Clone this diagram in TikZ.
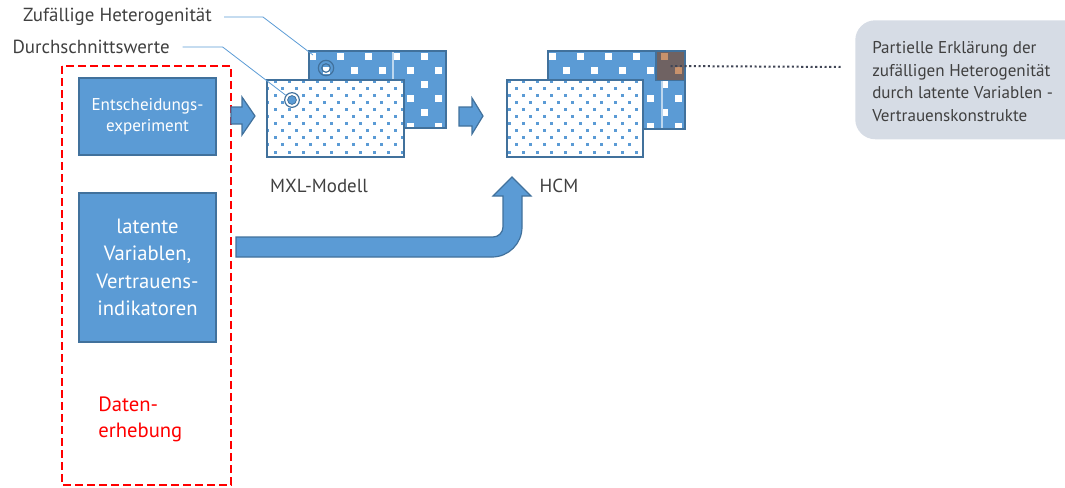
\documentclass[tikz,border=0pt]{standalone}
\usepackage{fontspec}
\setmainfont{PT Sans}
\usepackage{tikz}
\usetikzlibrary{positioning,calc}

\definecolor{officeblue}{HTML}{5B9BD5}
\definecolor{officeline}{HTML}{41719C}
\definecolor{softline}{HTML}{BDD7EE}
\definecolor{labelgray}{HTML}{404040}
\definecolor{calloutgray}{HTML}{D6DCE5}
\definecolor{markbrown}{HTML}{6F6262}
\definecolor{markorange}{HTML}{C8926C}
\definecolor{dotgray}{HTML}{404555}

\tikzset{
  bluebox/.style={draw=officeline, fill=officeblue, line width=1.1pt, text=white, align=center, inner sep=0pt},
  lbltext/.style={text=labelgray, inner sep=0pt, font=\fontsize{14.2}{17}\selectfont},
  blockarrow/.style={draw=officeline, fill=officeblue, line width=0.9pt, line join=miter},
  leader/.style={officeblue, line width=0.6pt},
  modelframe/.style={draw=officeline, line width=1.1pt}
}

\begin{document}
\begin{tikzpicture}[x=0.75pt, y=-0.75pt]
\clip (0,0) rectangle (1065,487);

%%% The dashed frame holds the data collection
\draw[red, line width=1.4pt, dash pattern=on 6pt off 3pt] (62,66) rectangle (231,485);
\node[bluebox, minimum width=102.75pt, minimum height=57.75pt, font=\fontsize{12.8}{15.7}\selectfont] (exp) at (147.5,116.5)
  {Entscheidungs-\\experiment};
\node[bluebox, minimum width=102.75pt, minimum height=111.75pt, font=\fontsize{15.5}{20.6}\selectfont] (lat) at (147.5,267.5)
  {latente\\Variablen,\\Vertrauens-\\indikatoren};
\node[text=red, align=left, anchor=west, inner sep=0pt, font=\fontsize{15.5}{19.5}\selectfont] (daten) at (98,419)
  {Daten-\\erhebung};

%%% The MXL model: random part behind, means in front
\fill[officeblue] (309,51) rectangle (446,128);
\begin{scope}
\clip (309,51) rectangle (446,128);
\foreach \j in {0,...,3}
  \foreach \i in {0,...,5} {
    \fill[white] (312+28*\i-3.5, 56+28*\j-3.5) rectangle ++(7,7);
    \fill[white] (326+28*\i-3.5, 70+28*\j-3.5) rectangle ++(7,7);
  }
\end{scope}
\draw[softline, line width=0.8pt] (393,51) -- (393,128);
\draw[modelframe] (309,51) rectangle (446,128);
\node[circle, draw=officeline, line width=0.9pt, minimum size=11.5pt, inner sep=0pt] (rcirc) at (326,68) {};
\draw[officeline, line width=0.9pt] (rcirc.center) circle[radius=3.2pt];
%
\fill[white] (267,80) rectangle (404,157);
\begin{scope}
\clip (267,80) rectangle (404,157);
\foreach \j [evaluate=\j as \off using {7.1*mod(\j,2)}] in {0,...,10}
  \foreach \i in {0,...,9}
    \fill[officeblue] (275+14.2*\i-\off-1.5, 81+7.1*\j-1.5) rectangle ++(3,3);
\end{scope}
\draw[modelframe] (267,80) rectangle (404,157);
\node[circle, draw=officeline, fill=white, line width=0.9pt, minimum size=11pt, inner sep=0pt] (mcirc) at (292,100) {};
\filldraw[fill=officeblue, draw=officeline, line width=0.6pt] (mcirc.center) circle[radius=3.3pt];
\node[lbltext] (mxl) at (319,186) {MXL-Modell};

%%% The HCM: same layers, part of the random term explained
\fill[officeblue] (548,51) rectangle (685,129);
\begin{scope}
\clip (548,51) rectangle (685,129);
\foreach \j in {0,...,3}
  \foreach \i in {0,...,5} {
    \fill[white] (552+28*\i-3.5, 56+28*\j-3.5) rectangle ++(7,7);
    \fill[white] (566+28*\i-3.5, 70+28*\j-3.5) rectangle ++(7,7);
  }
\end{scope}
\draw[softline, line width=0.8pt] (662,51) -- (662,129);
\draw[modelframe] (548,51) rectangle (685,129);
\node[draw=officeline, fill=markbrown, line width=0.8pt, minimum size=21.75pt, inner sep=0pt] (hetmark) at (670.5,66) {};
\fill[markorange] (664-3.5,56-3.5) rectangle ++(7,7);
\fill[markorange] (678-3.5,70-3.5) rectangle ++(7,7);
%
\fill[white] (507,80) rectangle (643,157);
\begin{scope}
\clip (507,80) rectangle (643,157);
\foreach \j [evaluate=\j as \off using {7.1*mod(\j,2)}] in {0,...,10}
  \foreach \i in {0,...,10}
    \fill[officeblue] (509+14.2*\i+\off-1.5, 81+7.1*\j-1.5) rectangle ++(3,3);
\end{scope}
\draw[modelframe] (507,80) rectangle (643,157);
\node[lbltext] (hcm) at (559,186) {HCM};

%%% The block arrows between the steps
\filldraw[blockarrow] (231,107) -- (242,107) -- (242,97) -- (255,116) -- (242,135) -- (242,124) -- (231,124) -- cycle;
\filldraw[blockarrow] (459,107) -- (472,107) -- (472,98) -- (483,116) -- (472,134) -- (472,126) -- (459,126) -- cycle;
\filldraw[blockarrow] (236,237) -- (493,237) .. controls (498.5,237) and (503,232.5) .. (503,227)
  -- (503,196) -- (493,196) -- (512,177) -- (531,196) -- (522,196) -- (522,227)
  .. controls (522,243.6) and (508.6,257) .. (492,257) -- (236,257) -- cycle;

%%% The labels pointing at the two circles
\node[lbltext, anchor=east] (zuf) at (212,17) {Zufällige Heterogenität};
\node[lbltext, anchor=east] (avg) at (170,47) {Durchschnittswerte};
\coordinate (zufend) at (313,55);
\draw[leader] ([xshift=9pt]zuf.east) -- ++(39,0) -- (zufend);
\draw[leader] ([xshift=9.5pt]avg.east) -- ++(40,0) -- (mcirc);

%%% The callout and its dotted link
\node[fill=calloutgray, rounded corners=15pt, anchor=north west, minimum width=180pt, minimum height=89.25pt, inner sep=0pt] (expl) at (855,20) {};
\node[text=labelgray, align=left, anchor=north west, inner sep=0pt, font=\fontsize{12.8}{17}\selectfont] (expltext) at (872,41)
  {Partielle Erklärung der\\zufälligen Heterogenität\\durch latente Variablen -\\Vertrauenskonstrukte};
\coordinate (dotend) at (843,67);
\draw[dotgray, line width=1.5pt, dash pattern=on 1.6pt off 1.9pt] (hetmark.center) -- (dotend);
\end{tikzpicture}
\end{document}
